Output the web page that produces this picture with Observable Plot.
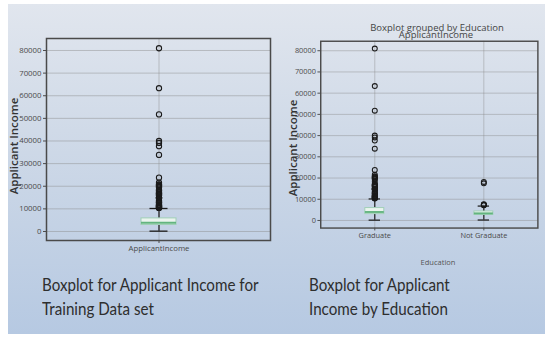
<!DOCTYPE html>
<html><head><meta charset="utf-8">
<script src="https://cdn.jsdelivr.net/npm/d3@7"></script>
<script src="https://cdn.jsdelivr.net/npm/@observablehq/plot@0.6"></script>
<style>
html,body{margin:0;padding:0;overflow:hidden;background:#fff;}
#slide{position:relative;width:545px;height:338px;overflow:hidden;background:#fff;font-family:"Open Sans",sans-serif;}
#bg{position:absolute;left:8px;top:4px;right:0;bottom:4px;background:linear-gradient(#e1e6ee 0%,#cdd8e7 45%,#b6c9e2 100%);}
.abs{position:absolute;white-space:nowrap;}
.rot{transform:translate(-50%,-50%) rotate(-90deg);}
.ctr{transform:translate(-50%,-50%);}
.cap{font-family:Lato,sans-serif;font-size:16.5px;color:#2e2e2e;line-height:23.5px;transform:scaleX(0.92);transform-origin:0 0;}
#left,#right{position:absolute;top:0;}
#left{left:0;} #right{left:270px;}
</style></head>
<body>
<div id="slide">
<div id="bg"></div>
<div id="left"></div>
<div id="right"></div>
<div class="abs rot" style="left:13px;top:146px;font-size:11.5px;font-weight:600;color:#333;">Applicant Income</div>
<div class="abs rot" style="left:292px;top:148px;font-size:11.5px;font-weight:600;color:#333;">Applicant Income</div>
<div class="abs ctr" style="left:437px;top:27px;font-size:9.5px;color:#444;">Boxplot grouped by Education</div>
<div class="abs ctr" style="left:436px;top:34px;font-size:9.5px;color:#444;">ApplicantIncome</div>
<div class="abs ctr" style="left:438px;top:262px;font-size:7.5px;color:#555;">Education</div>
<div class="abs cap" style="left:42px;top:274px;">Boxplot for Applicant Income for<br>Training Data set</div>
<div class="abs cap" style="left:309px;top:274px;">Boxplot for Applicant<br>Income by Education</div>
</div>
<script>
// ---- data ----
const yTicks = [0, 10000, 20000, 30000, 40000, 50000, 60000, 70000, 80000];

const allCats = ["ApplicantIncome"];
const allQ1 = [2877];
const allMedian = [3812];
const allQ3 = [5795];
const allLow = [150];
const allHigh = [10171];
const allOutliers = [10408, 10416, 10513, 10750, 10833, 11000, 11146, 11250, 11417, 11500, 11757, 12000, 12500, 12841, 12876, 13262, 13650, 14583, 14683, 14866, 14880, 14999, 15000, 15759, 16120, 16250, 16666, 16667, 16692, 17263, 17500, 18165, 18333, 19484, 19730, 20166, 20233, 20667, 20833, 21600, 23803, 33846, 37719, 39147, 39999, 51763, 63337, 81000];

const eduCats = ["Graduate", "Not Graduate"];
const eduQ1 = [2998, 2583];
const eduMedian = [4000, 3357];
const eduQ3 = [5853, 4258];
const eduLow = [150, 210];
const eduHigh = [10139, 6782];
const gradOutliers = [10408, 10416, 10513, 10750, 10833, 11000, 11146, 11250, 11417, 11500, 11757, 12000, 12500, 12841, 12876, 13262, 13650, 14583, 14683, 14866, 14880, 14999, 15000, 15759, 16120, 16250, 16666, 16667, 16692, 17263, 18333, 19484, 19730, 20166, 20233, 20667, 20833, 21600, 23803, 33846, 37719, 39147, 39999, 51763, 63337, 81000];
const notGradOutliers = [7142, 7333, 7451, 7660, 17500, 18165];

// ---- helpers ----
function rowsOf(cats, q1, med, q3, lo, hi) {
  return cats.map((c, i) => ({cat: c, q1: q1[i], median: med[i], q3: q3[i], low: lo[i], high: hi[i]}));
}
function boxMarks(rows, outs, capInset) {
  return [
    Plot.ruleX(rows, {x: "cat", y1: "low", y2: "q1", stroke: "#1a1a1a", strokeWidth: 1.2}),
    Plot.ruleX(rows, {x: "cat", y1: "q3", y2: "high", stroke: "#1a1a1a", strokeWidth: 1.2}),
    Plot.tickY(rows, {x: "cat", y: "low", stroke: "#1a1a1a", strokeWidth: 1.3, insetLeft: capInset, insetRight: capInset}),
    Plot.tickY(rows, {x: "cat", y: "high", stroke: "#1a1a1a", strokeWidth: 1.3, insetLeft: capInset, insetRight: capInset}),
    Plot.barY(rows, {x: "cat", y1: "q1", y2: "q3", fill: "#eaf4ee", stroke: "#9fcfb6", strokeWidth: 1}),
    Plot.tickY(rows, {x: "cat", y: "median", stroke: "#62b47f", strokeWidth: 2}),
    ...outs.map(o => Plot.dot(o.values, {x: () => o.cat, y: d => d, r: 2.6, fill: "none", stroke: "#1a1a1a", strokeWidth: 1.1}))
  ];
}
const common = {
  style: {background: "transparent", fontFamily: "Open Sans, sans-serif", fontSize: "7.8px", color: "#4a4a4a", overflow: "visible"}
};

// ---- left chart ----
const leftRows = rowsOf(allCats, allQ1, allMedian, allQ3, allLow, allHigh);
const leftPlot = Plot.plot({
  ...common,
  width: 280, height: 260,
  marginLeft: 46, marginRight: 10, marginTop: 38, marginBottom: 20,
  x: {type: "band", domain: allCats, paddingInner: 0.73, paddingOuter: 0.73, label: null, tickSize: 3, tickPadding: 2},
  y: {domain: [-3978, 85300], ticks: yTicks, tickFormat: d => String(d), label: null, tickSize: 3, tickPadding: 2},
  marks: [
    Plot.ruleY(yTicks, {stroke: "#8a8a8a", strokeOpacity: 0.45}),
    Plot.ruleX(allCats, {x: d => d, stroke: "#8a8a8a", strokeOpacity: 0.45}),
    ...boxMarks(leftRows, [{cat: "ApplicantIncome", values: allOutliers}], 8.5),
    Plot.frame({stroke: "#4a4a4a", strokeWidth: 1.5})
  ]
});
document.getElementById("left").append(leftPlot);

// ---- right chart ----
const eduRows = rowsOf(eduCats, eduQ1, eduMedian, eduQ3, eduLow, eduHigh);
const rightPlot = Plot.plot({
  ...common,
  width: 290, height: 260,
  marginLeft: 53, marginRight: 8, marginTop: 43, marginBottom: 20,
  x: {type: "band", domain: eduCats, paddingInner: 0.826, paddingOuter: 0.408, label: null, tickSize: 3, tickPadding: 2},
  y: {domain: [-3575, 84470], ticks: yTicks, tickFormat: d => String(d), label: null, tickSize: 3, tickPadding: 2},
  marks: [
    Plot.ruleY(yTicks, {stroke: "#8a8a8a", strokeOpacity: 0.45}),
    Plot.ruleX(eduCats, {x: d => d, stroke: "#8a8a8a", strokeOpacity: 0.45}),
    ...boxMarks(eduRows, [{cat: "Graduate", values: gradOutliers}, {cat: "Not Graduate", values: notGradOutliers}], 4),
    Plot.frame({stroke: "#4a4a4a", strokeWidth: 1.5})
  ]
});
document.getElementById("right").append(rightPlot);
</script>
</body></html>
